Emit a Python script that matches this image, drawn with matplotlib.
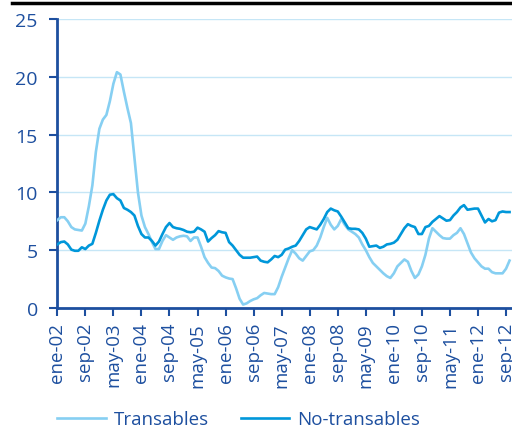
import matplotlib
matplotlib.use("Agg")
import matplotlib.pyplot as plt
from matplotlib.lines import Line2D
import numpy as np

plt.rcParams['font.family'] = ['Open Sans', 'DejaVu Sans']

# monthly series, ene-02 .. oct-12
transables = [
    7.6, 7.85, 7.85, 7.5, 7.0, 6.8, 6.75, 6.7, 7.3, 8.8,
    10.6, 13.5, 15.5, 16.3, 16.7, 17.9, 19.4, 20.4, 20.2, 18.7,
    17.3, 16.0, 13.0, 10.0, 8.0, 7.0, 6.4, 5.7, 5.1, 5.1,
    5.8, 6.3, 6.1, 5.9, 6.1, 6.2, 6.25, 6.2, 5.8, 6.1,
    6.1, 5.3, 4.4, 3.9, 3.5, 3.45, 3.2, 2.8, 2.65, 2.55,
    2.5, 1.7, 0.8, 0.3, 0.4, 0.6, 0.75, 0.85, 1.1, 1.3,
    1.25, 1.2, 1.2, 1.8, 2.7, 3.5, 4.3, 5.0, 4.7, 4.3,
    4.1, 4.5, 4.9, 5.0, 5.4, 6.1, 7.0, 7.8, 7.2, 6.8,
    7.1, 7.7, 7.2, 6.8, 6.6, 6.4, 6.1, 5.5, 5.0, 4.4,
    3.9, 3.6, 3.3, 3.0, 2.75, 2.6, 3.0, 3.6, 3.9, 4.2,
    4.0, 3.2, 2.6, 2.9, 3.6, 4.6, 6.0, 6.9, 6.6, 6.3,
    6.05, 6.0, 6.0, 6.3, 6.5, 6.9, 6.4, 5.6, 4.8, 4.3,
    3.95, 3.6, 3.4, 3.4, 3.1, 3.0, 3.0, 3.0, 3.4, 4.1,
]
no_transables = [
    5.5, 5.7, 5.75, 5.5, 5.05, 4.95, 4.95, 5.25, 5.1, 5.4,
    5.55, 6.5, 7.55, 8.5, 9.3, 9.8, 9.85, 9.5, 9.3, 8.65,
    8.5, 8.3, 8.0, 7.1, 6.4, 6.1, 6.1, 5.8, 5.4, 5.75,
    6.4, 7.0, 7.35, 7.0, 6.9, 6.85, 6.75, 6.6, 6.55, 6.6,
    6.95, 6.8, 6.6, 5.75, 6.05, 6.3, 6.65, 6.55, 6.5, 5.7,
    5.4, 5.0, 4.6, 4.35, 4.35, 4.35, 4.4, 4.45, 4.1, 4.0,
    3.95, 4.2, 4.5, 4.4, 4.6, 5.05, 5.15, 5.3, 5.4, 5.8,
    6.3, 6.8, 7.0, 6.9, 6.8, 7.2, 7.7, 8.3, 8.6, 8.45,
    8.35, 7.9, 7.4, 6.9, 6.85, 6.85, 6.8, 6.5, 6.0, 5.3,
    5.35, 5.4, 5.2, 5.3, 5.5, 5.55, 5.65, 5.9, 6.4, 6.9,
    7.25, 7.1, 7.0, 6.4, 6.4, 7.0, 7.1, 7.45, 7.7, 7.95,
    7.75, 7.55, 7.6, 8.0, 8.3, 8.7, 8.9, 8.5, 8.55, 8.6,
    8.6, 8.0, 7.4, 7.7, 7.5, 7.6, 8.25, 8.35, 8.3, 8.3,
]
tick_labels = ["ene-02", "sep-02", "may-03", "ene-04", "sep-04", "may-05",
               "ene-06", "sep-06", "may-07", "ene-08", "sep-08", "may-09",
               "ene-10", "sep-10", "may-11", "ene-12", "sep-12"]
y_ticks = [0, 5, 10, 15, 20, 25]

navy = "#1d4f9f"
light = "#86cff2"
dark = "#0097da"

fig = plt.figure(figsize=(5.12, 4.35), dpi=100)
ax = fig.add_axes([57.3 / 512, 1 - 309 / 435, 1 - 57.3 / 512, 289 / 435])

months = np.arange(len(transables))
ax.plot(months, transables, color=light, lw=1.9, label="Transables", zorder=3)
ax.plot(months, no_transables, color=dark, lw=1.9, label="No-transables", zorder=4)

ax.set_xlim(0, 129.7)
ax.set_ylim(0, 25)
ax.set_yticks(y_ticks)
ax.set_xticks(np.arange(len(tick_labels)) * 8)
ax.set_xticklabels(tick_labels, rotation=90)
ax.tick_params(axis='both', colors=navy, labelcolor=navy, labelsize=13.5,
               length=6, width=1.5, direction='out')
ax.tick_params(axis='y', pad=8, labelsize=14)
ax.tick_params(axis='x', pad=4)
ax.grid(axis='y', color="#c6e6f6", lw=1)
ax.set_axisbelow(True)
for side in ['top', 'right']:
    ax.spines[side].set_visible(False)
for side in ['left', 'bottom']:
    ax.spines[side].set_color(navy)
    ax.spines[side].set_linewidth(2)

# black rule at top of the page
fig.add_artist(Line2D([12 / 512, 1], [1 - 4 / 435] * 2, color='black', lw=2.5))

leg = fig.legend(loc='center left', bbox_to_anchor=(0.078, 0.034), ncol=2,
                 frameon=False, fontsize=13.5, handlelength=2.6,
                 columnspacing=1.7, handletextpad=0.43)
for t in leg.get_texts():
    t.set_color(navy)

fig.savefig("out.png", dpi=100)
